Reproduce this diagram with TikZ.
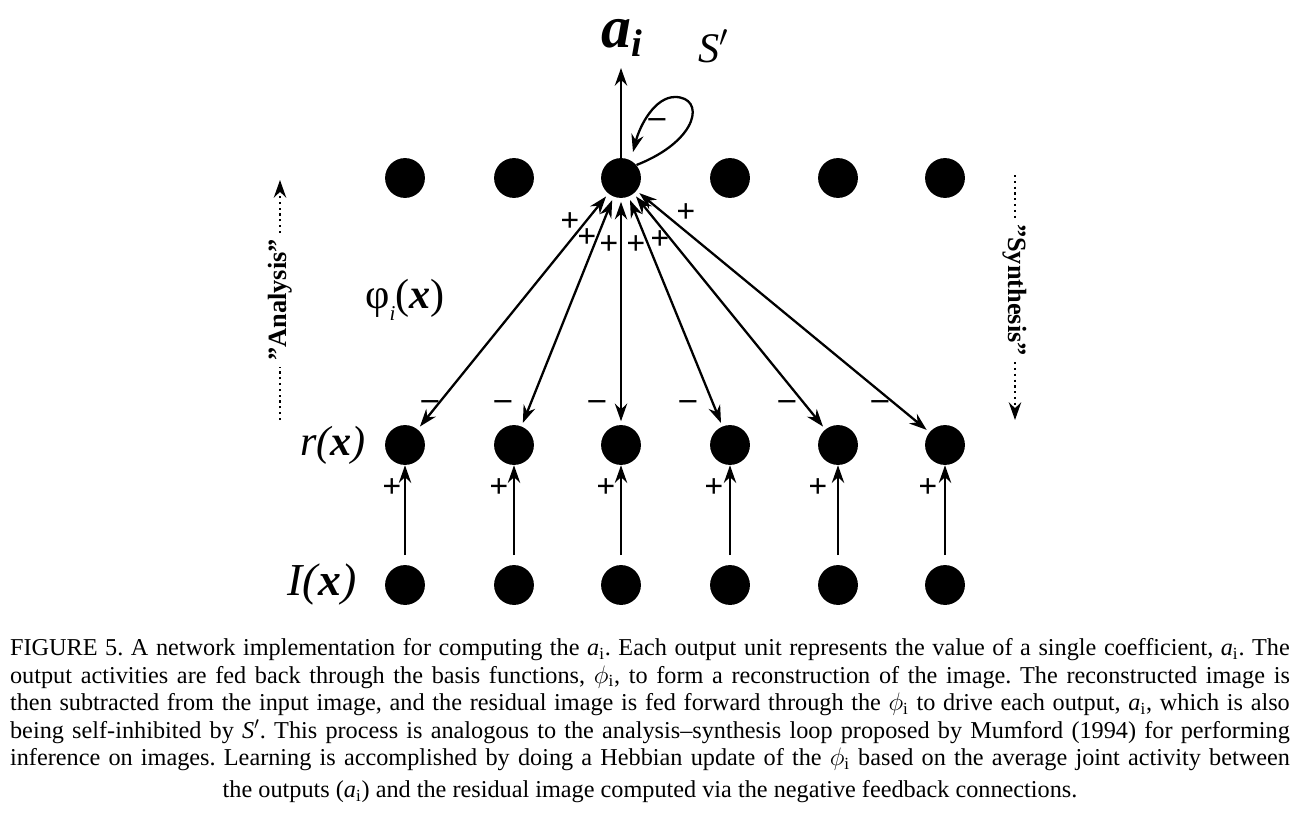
\documentclass[tikz,border=0pt]{standalone}
\usepackage{fontspec}
\setmainfont{Liberation Serif}
\usetikzlibrary{positioning, arrows.meta}
\tikzset{
  unit/.style={circle, fill=black, inner sep=0pt, minimum size=40pt*0.5669},
  conn/.style={line width=1.3pt, -{Stealth[length=10pt, width=7pt]}},
  sgn/.style={font=\fontsize{19}{19}\selectfont\bfseries, inner sep=0pt},
}
\newcommand{\bx}{\textbf{\textit{x}}}
\begin{document}
\frenchspacing
\begin{tikzpicture}[x=0.02cm, y=-0.02cm]
			\useasboundingbox (0,0) rectangle (1302,818);
			% output, residual and input units
			\foreach \n/\x in {1/405, 2/514, 3/621, 4/730, 5/838, 6/945} {
				\node[unit] (a\n) at (\x,178) {};
				\node[unit] (r\n) at (\x,445) {};
				\node[unit] (i\n) at (\x,585) {};
				\coordinate (t\n) at (\x,555);
				\draw[conn] (t\n) -- (r\n);
			}
			\foreach \n in {1,...,6} {
				\draw[line width=1.3pt, {Stealth[length=10pt, width=7pt]}-{Stealth[length=10pt, width=7pt]}, shorten <=2pt, shorten >=2pt] (a3) -- (r\n);
			}
			% signs
			\foreach \x in {430, 503, 597, 688, 787, 880} \node[sgn] at (\x,405) {--};
			\foreach \x in {392, 499, 606, 714, 818, 928} \node[sgn] at (\x,488) {+};
			\foreach \x/\y in {570/222, 587/238, 609/245, 636/245, 660/240, 686/213} \node[sgn] at (\x,\y) {+};
			% output and self-inhibition
			\coordinate (out) at (621,68);
			\draw[conn] (a3) -- (out);
			\draw[line width=1.3pt, -{Stealth[length=10pt, width=7pt]}] (a3.40) .. controls (700,140) and (705,97) .. (675,97) .. controls (655,97) and (640,125) .. (633,152);
			\node[sgn] at (657,123) {--};
			\node[font=\fontsize{24}{24}\selectfont\itshape] (S) at (714,46) {S$'$};
			\node[font=\fontsize{34}{34}\selectfont\bfseries\itshape] (ai) at (622,38) {a\raisebox{-0.35ex}{\fontsize{22}{22}\selectfont i}};
			% row labels
			\node[font=\fontsize{24}{26}\selectfont\itshape] (rl) at (333,445) {r(\bx)};
			\node[font=\fontsize{26}{26}\selectfont\itshape] (il) at (322,585) {I(\bx)};
			\node[font=\fontsize{24}{26}\selectfont] (phi) at (405,300) {φ\raisebox{-0.6ex}{\large\itshape i}(\bx)};
			% analysis / synthesis
			\node[rotate=90, font=\fontsize{15}{15}\selectfont\bfseries] (an) at (280,300) {''Analysis''};
			\coordinate (anb) at (280,420);
			\coordinate (ant) at (280,180);
			\draw[dotted, line width=1.3pt] (anb) -- (an.west);
			\draw[dotted, line width=1.3pt, -{Stealth[length=10pt, width=7pt]}] (an.east) -- (ant);
			\node[rotate=-90, font=\fontsize{15}{15}\selectfont\bfseries] (sy) at (1015,290) {''Synthesis''};
			\coordinate (syt) at (1015,175);
			\coordinate (syb) at (1015,420);
			\draw[dotted, line width=1.3pt] (syt) -- (sy.west);
			\draw[dotted, line width=1.3pt, -{Stealth[length=10pt, width=7pt]}] (sy.east) -- (syb);
			% caption
			\node[text width=25.6cm, align=justify, font=\fontsize{13.8}{15.7}\selectfont, anchor=north, inner sep=0pt] (cap) at (650,638) {\parfillskip=0pt FIGURE 5. A network implementation for computing the \textit{a}\textsubscript{i}. Each output unit represents the value of a single coefficient, \textit{a}\textsubscript{i}. The output activities are fed back through the basis functions, $\phi_{\mathrm{i}}$, to form a reconstruction of the image. The reconstructed image is then subtracted from the input image, and the residual image is fed forward through the $\phi_{\mathrm{i}}$ to drive each output, \textit{a}\textsubscript{i}, which is also being self-inhibited by \textit{S}$'$. This process is analogous to the analysis--synthesis loop proposed by Mumford (1994) for performing inference on images. Learning is accomplished by doing a Hebbian update of the $\phi_{\mathrm{i}}$ based on the average joint activity between\par};
			\node[font=\fontsize{13.8}{15.7}\selectfont, below=5pt of cap, inner sep=0pt] (cap2) {the outputs (\textit{a}\textsubscript{i}) and the residual image computed via the negative feedback connections.};
\end{tikzpicture}
\end{document}
